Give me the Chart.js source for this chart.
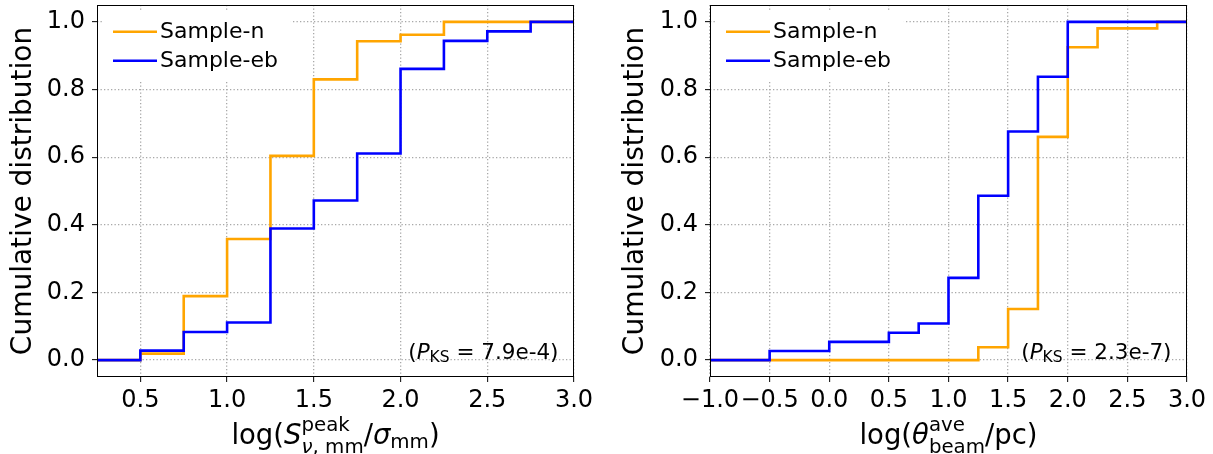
<!DOCTYPE html>
<html lang="en">
<head>
  <meta charset="UTF-8">
  <title>Cumulative distributions</title>
  <script src="https://cdn.jsdelivr.net/npm/chart.js"></script>
  <style>
    body { margin: 0; background: #fff; }
    #wrap { position: relative; width: 1213px; height: 454px; }
    canvas { position: absolute; top: 0; }
  </style>
</head>
<body>
<div id="wrap">
  <canvas id="left" width="606" height="454" style="left:0"></canvas>
  <canvas id="right" width="607" height="454" style="left:606px"></canvas>
</div>
<script>
// left panel: log(S_peak / sigma_mm)
const snrX = [0.25, 0.5, 0.75, 1.0, 1.25, 1.5, 1.75, 2.0, 2.25, 2.5, 2.75, 3.0];
const snrSampleN = [0, 0.019, 0.189, 0.358, 0.604, 0.830, 0.943, 0.962, 1.0, 1.0, 1.0, 1.0];
const snrSampleEb = [0, 0.028, 0.083, 0.111, 0.389, 0.472, 0.611, 0.861, 0.944, 0.972, 1.0, 1.0];
const snrTicks = [0.5, 1.0, 1.5, 2.0, 2.5, 3.0];
const snrPks = '7.9e-4';

// right panel: log(theta_beam / pc)
const beamXN = [-1.0, 1.25, 1.5, 1.75, 2.0, 2.25, 2.75, 3.0];
const beamSampleN = [0, 0.038, 0.151, 0.660, 0.925, 0.981, 1.0, 1.0];
const beamXEb = [-1.0, -0.5, 0.0, 0.5, 0.75, 1.0, 1.25, 1.5, 1.75, 2.0, 3.0];
const beamSampleEb = [0, 0.027, 0.054, 0.081, 0.108, 0.243, 0.486, 0.676, 0.838, 1.0, 1.0];
const beamTicks = [-1.0, -0.5, 0.0, 0.5, 1.0, 1.5, 2.0, 2.5, 3.0];
const beamPks = '2.3e-7';

const cdfTicks = [0.0, 0.2, 0.4, 0.6, 0.8, 1.0];
const seriesNames = ['Sample-n', 'Sample-eb'];

Chart.defaults.font.family = '"DejaVu Sans"';
Chart.defaults.color = '#000';

const fmt = v => (v < 0 ? '\u2212' : '') + Math.abs(v).toFixed(1);
const pts = (xs, ys) => xs.map((x, i) => ({x: x, y: ys[i]}));

// draws text runs with italic parts and stacked super/subscripts, returns width
function drawRuns(ctx, runs, x, y, size, measureOnly) {
  let cx = x;
  for (const r of runs) {
    if (r.t !== undefined) {
      ctx.font = (r.it ? 'italic ' : '') + size + 'px "DejaVu Sans"';
      if (!measureOnly) ctx.fillText(r.t, cx, y);
      cx += ctx.measureText(r.t).width;
    } else {
      const s = size * 0.72;
      const w1 = r.sup ? drawRuns(ctx, r.sup, cx, y - size * r.up, s, measureOnly) : 0;
      const w2 = r.sub ? drawRuns(ctx, r.sub, cx, y + size * r.down, s, measureOnly) : 0;
      cx += Math.max(w1, w2);
    }
  }
  return cx - x;
}

const decor = {
  id: 'decor',
  afterDatasetsDraw(chart, args, o) {
    const {ctx, chartArea: a} = chart;
    ctx.save();
    ctx.textBaseline = 'alphabetic';
    ctx.textAlign = 'left';

    // legend, upper left, white box without frame
    ctx.font = '22px "DejaVu Sans"';
    const textX = a.left + 63;
    let tw = 0;
    chart.data.datasets.forEach(d => { tw = Math.max(tw, ctx.measureText(d.label).width); });
    ctx.fillStyle = '#fff';
    ctx.fillRect(a.left + 7, a.top + 7, textX + tw + 13 - (a.left + 7), 69);
    chart.data.datasets.forEach((d, i) => {
      const y = a.top + 26.7 + i * 29;
      ctx.strokeStyle = d.borderColor;
      ctx.lineWidth = d.borderWidth;
      ctx.beginPath();
      ctx.moveTo(a.left + 16, y);
      ctx.lineTo(a.left + 60, y);
      ctx.stroke();
      ctx.fillStyle = '#000';
      ctx.fillText(d.label, textX, y + 6.5);
    });

    // KS probability note
    const note = [{t: '('}, {t: 'P', it: true}, {sub: [{t: 'KS'}], down: 0.13}, {t: ' = ' + o.pks + ')'}];
    const nw = drawRuns(ctx, note, 0, 0, 21.5, true);
    drawRuns(ctx, note, a.right - 15.5 - nw, a.bottom - 17.7, 21.5, false);

    // axes frame
    ctx.strokeStyle = '#000';
    ctx.lineWidth = 1;
    ctx.strokeRect(a.left + 0.5, a.top + 0.5, a.right - a.left - 1, a.bottom - a.top - 1);
    ctx.restore();
  },
  afterDraw(chart, args, o) {
    const {ctx, chartArea: a} = chart;
    ctx.save();
    ctx.fillStyle = '#000';
    ctx.textBaseline = 'alphabetic';
    ctx.textAlign = 'left';
    const w = drawRuns(ctx, o.xTitle, 0, 0, 27.5, true);
    drawRuns(ctx, o.xTitle, (a.left + a.right) / 2 - w / 2, a.bottom + 67, 27.5, false);
    ctx.restore();
  }
};

function makePanel(id, xN, yN, xEb, yEb, xMin, xMax, xTicks, yAxisWidth, titlePad, rightPad, xTitle, pks) {
  const grid = {color: '#a8a8a8', lineWidth: 1.3, tickColor: '#000', tickWidth: 1, tickLength: 5};
  const border = {display: false, dash: [1.3, 2.2]};
  return new Chart(document.getElementById(id), {
    type: 'line',
    data: {
      datasets: [{
        label: seriesNames[0],
        data: pts(xN, yN),
        borderColor: '#FFA500',
        borderWidth: 2.6,
        stepped: true,
        pointRadius: 0,
        order: 1
      }, {
        label: seriesNames[1],
        data: pts(xEb, yEb),
        borderColor: '#0000FF',
        borderWidth: 2.6,
        stepped: true,
        pointRadius: 0,
        order: 0
      }]
    },
    options: {
      responsive: false,
      animation: false,
      devicePixelRatio: 1,
      layout: {padding: {left: 0, right: rightPad, top: 5, bottom: 0}},
      plugins: {
        legend: {display: false},
        tooltip: {enabled: false},
        decor: {xTitle: xTitle, pks: pks}
      },
      scales: {
        x: {
          type: 'linear',
          min: xMin,
          max: xMax,
          afterBuildTicks: s => { s.ticks = xTicks.map(v => ({value: v})); },
          afterFit: s => { s.height = 77; s.paddingLeft = 0; s.paddingRight = 0; },
          ticks: {autoSkip: false, maxRotation: 0, padding: 4, font: {size: 24}, callback: v => fmt(v)},
          grid: grid,
          border: border
        },
        y: {
          type: 'linear',
          min: -0.05,
          max: 1.05,
          afterBuildTicks: s => { s.ticks = cdfTicks.map(v => ({value: v})); },
          afterFit: s => { s.width = yAxisWidth; s.paddingTop = 0; s.paddingBottom = 0; },
          ticks: {padding: 7, font: {size: 24}, callback: v => fmt(v)},
          title: {display: true, text: 'Cumulative distribution', font: {size: 28}, padding: {top: titlePad, bottom: 0}},
          grid: grid,
          border: border
        }
      }
    },
    plugins: [decor]
  });
}

makePanel('left', snrX, snrSampleN, snrX, snrSampleEb, 0.25, 3.0, snrTicks, 97, 6.8, 32,
  [{t: 'log('}, {t: 'S', it: true},
   {sup: [{t: 'peak'}], sub: [{t: 'ν', it: true}, {t: ', mm'}], up: 0.46, down: 0.33},
   {t: '/'}, {t: 'σ', it: true}, {sub: [{t: 'mm'}], down: 0.15}, {t: ')'}],
  snrPks);

makePanel('right', beamXN, beamSampleN, beamXEb, beamSampleEb, -1.0, 3.0, beamTicks, 104, 12.5, 26,
  [{t: 'log('}, {t: 'θ', it: true},
   {sup: [{t: 'ave'}], sub: [{t: 'beam'}], up: 0.46, down: 0.33},
   {t: '/pc)'}],
  beamPks);
</script>
</body>
</html>
